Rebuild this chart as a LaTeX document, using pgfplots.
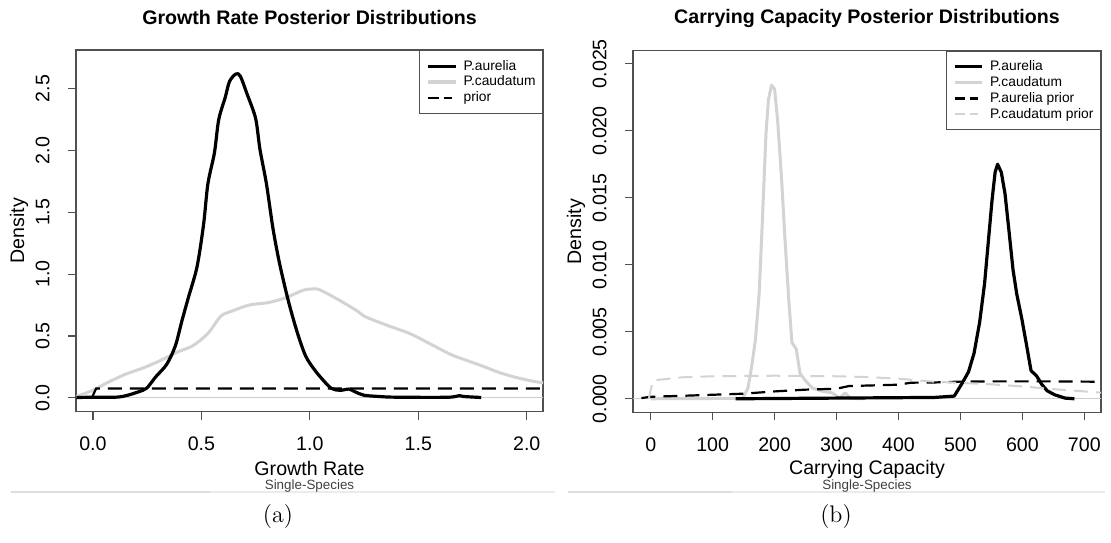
\documentclass[border=0pt]{standalone}
\usepackage{fontspec}
\setsansfont{Liberation Sans}
\usepackage{pgfplots}
\pgfplotsset{compat=1.18}
\definecolor{lg}{HTML}{D3D3D3}
\definecolor{boxc}{HTML}{505050}
\pgfplotsset{
  rstyle/.style={
    scale only axis,
    axis line style={draw=boxc, line width=0.6pt},
    xtick pos=lower, ytick pos=left,
    tick align=outside,
    major tick length=4pt,
    tick style={draw=boxc, line width=0.6pt},
    font=\sffamily,
    tick label style={font=\sffamily\fontsize{9.8}{11}\selectfont},
    /pgf/number format/assume math mode=true,
    scaled ticks=false,
    xticklabel style={anchor=north, inner sep=0pt},
    yticklabel style={xshift=-9pt, rotate=90, anchor=south, inner sep=0pt},
    xticklabel shift=8.5pt,
    every axis title/.style={at={(0.5,1)}, anchor=center, yshift=16.25pt, font=\sffamily\bfseries\fontsize{9.8}{11}\selectfont},
    every axis x label/.style={at={(0.5,0)}, anchor=center, yshift=-28.5pt, font=\sffamily\fontsize{9.8}{11}\selectfont},
    every axis y label/.style={at={([xshift=-28.5pt]axis description cs:0,0.5)}, rotate=90, anchor=center, font=\sffamily\fontsize{9.8}{11}\selectfont},
    legend style={at={(1,1)}, anchor=north east, draw=boxc, line width=0.5pt, fill=white,
      font=\sffamily\fontsize{6.9}{7.5}\selectfont, inner xsep=3.5pt, inner ysep=4.2pt,
      row sep=0.7pt, column sep=3.2pt, cells={anchor=west},
      nodes={inner sep=0pt, text height=5.6pt, text depth=1.6pt}},
    legend image code/.code={\path (0pt,0pt) -- (1.2pt,0pt); \draw[##1] (1.2pt,0pt) -- (13.7pt,0pt);},
    clip=true,
  }
}
\begin{document}
\begin{tikzpicture}
\useasboundingbox (0,0) rectangle (555.5pt,-271pt);
% ---------------- panel (a)
\begin{axis}[rstyle, at={(38pt,-205.85pt)}, anchor=south west,
  width=233.5pt, height=180.85pt,
  xmin=-0.078, xmax=2.075, ymin=-0.113, ymax=2.813,
  xtick={0,0.5,1,1.5,2}, ytick={0,0.5,1,1.5,2,2.5},
  xticklabel style={/pgf/number format/.cd, fixed, fixed zerofill, precision=1},
  yticklabel style={/pgf/number format/.cd, fixed, fixed zerofill, precision=1},
  title={Growth Rate Posterior Distributions},
  xlabel={Growth Rate},
  ylabel={Density},
]
\addplot[forget plot, color=black!20, line width=0.5pt] coordinates {(-1,0) (3,0)};
\addplot[forget plot, color=lg, line width=1.5pt, smooth, tension=0.5, line join=round] coordinates {
(-0.076,0.01) (0.0,0.06) (0.064,0.12) (0.15,0.19) (0.23,0.24) (0.31,0.30) (0.39,0.37)
(0.46,0.42) (0.53,0.52) (0.59,0.66) (0.64,0.70) (0.72,0.75) (0.81,0.77) (0.89,0.81)
(0.97,0.87) (1.02,0.88) (1.05,0.87) (1.135,0.79) (1.22,0.70) (1.25,0.66) (1.35,0.59)
(1.46,0.52) (1.55,0.44) (1.65,0.35) (1.71,0.31) (1.79,0.26) (1.88,0.20) (1.96,0.16)
(2.04,0.13) (2.08,0.12) (2.15,0.10)};
\addplot[forget plot, color=black, line width=1.6pt, smooth, tension=0.5, line join=round] coordinates {
(-0.076,0.002) (0.0,0.004) (0.11,0.005) (0.16,0.02) (0.23,0.06) (0.25,0.08) (0.29,0.17)
(0.34,0.27) (0.38,0.42) (0.41,0.62) (0.44,0.81) (0.48,1.06) (0.51,1.40) (0.53,1.73)
(0.56,1.98) (0.58,2.25) (0.61,2.43) (0.63,2.56) (0.66,2.62) (0.68,2.60) (0.71,2.46)
(0.75,2.26) (0.77,2.01) (0.80,1.73) (0.83,1.37) (0.86,1.09) (0.90,0.79) (0.94,0.54)
(0.98,0.34) (1.02,0.23) (1.06,0.145) (1.10,0.075) (1.14,0.06) (1.18,0.07) (1.21,0.047)
(1.25,0.02) (1.32,0.01) (1.38,0.005) (1.55,0.003) (1.65,0.005) (1.69,0.017) (1.71,0.01)
(1.79,0.002)};
\addplot[forget plot, color=black, line width=1.1pt, dash pattern=on 7pt off 4pt] coordinates {
(-0.005,0) (0.015,0.075) (2.2,0.075)};
\addlegendimage{color=black, line width=1.6pt}
\addlegendentry{P.aurelia}
\addlegendimage{color=lg, line width=1.6pt}
\addlegendentry{P.caudatum}
\addlegendimage{color=black, line width=1.1pt, dash pattern=on 4pt off 2.5pt}
\addlegendentry{prior}
\end{axis}
% ---------------- panel (b)
\begin{axis}[rstyle, at={(316.5pt,-206.15pt)}, anchor=south west,
  width=234pt, height=180.8pt,
  xmin=-28.6, xmax=727, ymin=-0.00101, ymax=0.02597,
  xtick={0,100,200,300,400,500,600,700}, ytick={0,0.005,0.01,0.015,0.02,0.025},
  xticklabel style={/pgf/number format/.cd, fixed, precision=0},
  yticklabel style={/pgf/number format/.cd, fixed, fixed zerofill, precision=3},
  title={Carrying Capacity Posterior Distributions},
  xlabel={Carrying Capacity},
  ylabel={Density},
]
\addplot[forget plot, color=black!20, line width=0.5pt] coordinates {(-100,0) (800,0)};
\addplot[forget plot, color=lg, line width=1.5pt, line join=round] coordinates {
(0,0) (100,0.00002) (140,0.00003) (149,0.00005) (157,0.0008) (163,0.0024) (169,0.0044)
(175,0.0078) (180,0.013) (186,0.0197) (190,0.0223) (195,0.0234) (200,0.0231) (205,0.0207)
(211,0.0166) (217,0.0117) (223,0.0073) (228,0.0042) (235,0.0037) (241,0.0019) (250,0.00134)
(261,0.0008) (276,0.00057) (293,0.00044) (305,0.00005) (314,0.00044) (322,0.00005) (345,0)};
\addplot[forget plot, color=black, line width=1.6pt, line join=round] coordinates {
(137,0) (458,0.0001) (490,0.0002) (502,0.0011) (513,0.002) (522,0.0034) (531,0.0057)
(539,0.0086) (545,0.0117) (551,0.0148) (556,0.0169) (560,0.0175) (566,0.0169) (572,0.0153)
(578,0.0127) (585,0.0096) (591,0.0078) (599,0.006) (606,0.0042) (614,0.0021) (623,0.0017)
(631,0.0011) (640,0.0006) (652,0.0003) (669,0.00005) (684,0)};
\addplot[forget plot, color=black, line width=1.1pt, dash pattern=on 7pt off 4pt] coordinates {
(-15,0.00005) (0,0.00015) (50,0.00022) (100,0.0003) (150,0.00038) (200,0.00055) (250,0.00068)
(300,0.00075) (320,0.00095) (400,0.00105) (420,0.0012) (460,0.00122) (500,0.00128)
(550,0.0013) (600,0.0013) (650,0.0013) (700,0.00128) (740,0.00127)};
\addplot[forget plot, color=lg, line width=1.0pt, dash pattern=on 7pt off 4pt] coordinates {
(-3,0) (3,0.0013) (10,0.0014) (50,0.0016) (100,0.00168) (200,0.00172) (300,0.00168)
(350,0.00162) (400,0.0015) (450,0.0013) (500,0.00118) (550,0.00108) (600,0.00092)
(650,0.00072) (700,0.00055) (740,0.00042)};
\addlegendimage{color=black, line width=1.6pt}
\addlegendentry{P.aurelia}
\addlegendimage{color=lg, line width=1.6pt}
\addlegendentry{P.caudatum}
\addlegendimage{color=black, line width=1.1pt, dash pattern=on 4pt off 2.5pt}
\addlegendentry{P.aurelia prior}
\addlegendimage{color=lg, line width=1.1pt, dash pattern=on 4pt off 2.5pt}
\addlegendentry{P.caudatum prior}
\end{axis}
% ---------------- captions and separators
\draw[color=black!8, line width=0.6pt] (5.5pt,-246pt) -- (277.5pt,-246pt);
\draw[color=black!13, line width=0.6pt] (5.5pt,-246pt) -- (105pt,-246pt);
\draw[color=black!8, line width=0.6pt] (284pt,-246pt) -- (552.5pt,-246pt);
\draw[color=black!13, line width=0.6pt] (284pt,-246pt) -- (366pt,-246pt);
\node[font=\sffamily\fontsize{6.7}{7}\selectfont, text=black!75] at (154.75pt,-243pt) {Single-Species};
\node[font=\sffamily\fontsize{6.7}{7}\selectfont, text=black!75] at (433.5pt,-243pt) {Single-Species};
\node[font=\rmfamily\fontsize{12}{14}\selectfont] at (139pt,-258pt) {(a)};
\node[font=\rmfamily\fontsize{12}{14}\selectfont] at (418pt,-258pt) {(b)};
\end{tikzpicture}
\end{document}
